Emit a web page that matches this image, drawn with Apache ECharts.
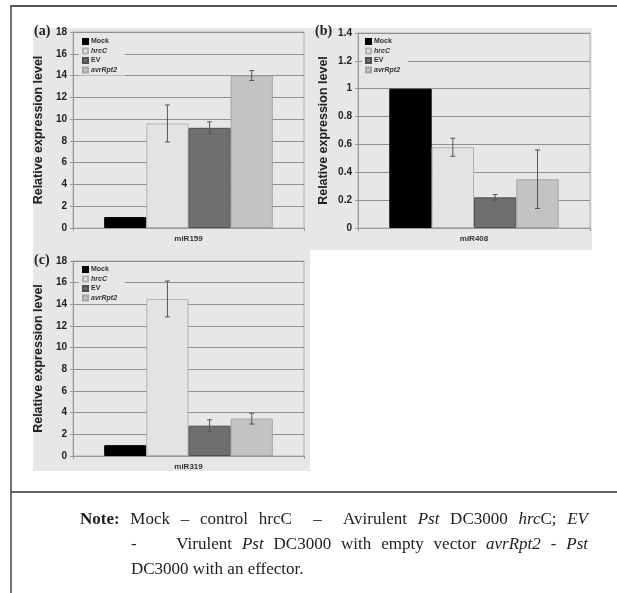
<!DOCTYPE html>
<html>
<head>
<meta charset="utf-8">
<script src="https://cdn.jsdelivr.net/npm/echarts@6/dist/echarts.min.js"></script>
<style>
  body { margin: 0; background: #fff; }
  #chart { position: absolute; left: 0; top: 0; width: 617px; height: 593px; }
  .note { position: absolute; font-family: "Liberation Serif", "DejaVu Serif", serif; font-size: 17px; color: #222; white-space: nowrap; }
  .just { text-align: justify; text-align-last: justify; white-space: normal; }
</style>
</head>
<body>
<div id="chart"></div>
<div class="note just" style="left:80px; top:509px; width:508px;"><b>Note:</b> Mock – control hrcC &nbsp;– &nbsp;Avirulent <i>Pst</i> DC3000 <i>hrc</i>C; <i>EV</i></div>
<div class="note just" style="left:131px; top:534px; width:457px;">- &nbsp;&nbsp;&nbsp;Virulent <i>Pst</i> DC3000 with empty vector <i>avrRpt2 - Pst</i></div>
<div class="note" style="left:131px; top:559px;">DC3000 with an effector.</div>
<script>
// 处理组
var seriesNames = ['Mock', 'hrcC', 'EV', 'avrRpt2'];
var barColors = ['#000000', '#e3e3e3', '#6f6f6f', '#c3c3c3'];
var barBorders = ['#000000', '#b2b2b2', '#4f4f4f', '#a5a5a5'];

// (a) miR159
var catA = ['miR159'];
var valuesA = [1.0, 9.6, 9.2, 14.0];
var errorsA = [0, 1.7, 0.55, 0.45];
// (b) miR408
var catB = ['miR408'];
var valuesB = [1.0, 0.58, 0.22, 0.35];
var errorsB = [0, 0.065, 0.02, 0.21];
// (c) miR319
var catC = ['miR319'];
var valuesC = [1.0, 14.5, 2.8, 3.45];
var errorsC = [0, 1.65, 0.55, 0.5];

// y轴刻度
var yMaxA = 18, yStepA = 2;
var yMaxB = 1.4, yStepB = 0.2;
var yMaxC = 18, yStepC = 2;

var gapPct = 27;
var grids = [
  { left: 73, top: 32, width: 231, height: 196 },
  { left: 358, top: 33, width: 232, height: 195 },
  { left: 73, top: 261, width: 231, height: 195 }
];
var legendPos = [
  { left: 79, top: 36 },
  { left: 362, top: 36 },
  { left: 79, top: 264 }
];

function makeGrid(g) {
  return {
    left: g.left, top: g.top, width: g.width, height: g.height,
    show: true, backgroundColor: '#e7e7e7', borderColor: '#b0b0b0', borderWidth: 1
  };
}

function makeX(idx, cats) {
  return {
    type: 'category', gridIndex: idx, data: cats,
    axisLine: { lineStyle: { color: '#9a9a9a' } },
    axisTick: { show: true, length: 3, lineStyle: { color: '#9a9a9a' } },
    axisLabel: { fontSize: 8, fontWeight: 'bold', color: '#333', margin: 7, fontFamily: 'Liberation Sans' }
  };
}

function makeY(idx, max, step) {
  return {
    type: 'value', gridIndex: idx, min: 0, max: max, interval: step,
    name: 'Relative expression level', nameLocation: 'middle', nameGap: 28,
    nameTextStyle: { fontSize: 12.5, fontWeight: 'bold', color: '#222', fontFamily: 'Liberation Sans' },
    axisLine: { show: true, lineStyle: { color: '#9a9a9a' } },
    axisTick: { show: true, length: 3, lineStyle: { color: '#9a9a9a' } },
    axisLabel: { fontSize: 10, fontWeight: 'bold', color: '#222', margin: 6, fontFamily: 'Liberation Sans' },
    splitLine: { lineStyle: { color: '#8f8f8f', width: 1 } }
  };
}

function makeBars(idx, values) {
  return seriesNames.map(function (n, i) {
    return {
      name: n, type: 'bar', xAxisIndex: idx, yAxisIndex: idx,
      data: [values[i]],
      barGap: '0%', barCategoryGap: gapPct + '%',
      itemStyle: { color: barColors[i], borderColor: barBorders[i], borderWidth: 1 },
      emphasis: { disabled: true }
    };
  });
}

function makeErr(idx, values, errors) {
  var data = [];
  for (var i = 0; i < values.length; i++) {
    if (errors[i] > 0) data.push([0, values[i] - errors[i], values[i] + errors[i], i]);
  }
  return {
    type: 'custom', xAxisIndex: idx, yAxisIndex: idx, z: 10,
    encode: { x: 0, y: [1, 2] },
    data: data,
    renderItem: function (params, api) {
      var lo = api.coord([api.value(0), api.value(1)]);
      var hi = api.coord([api.value(0), api.value(2)]);
      var band = api.size([1, 0])[0];
      var bw = band * (1 - gapPct / 100) / seriesNames.length;
      var x = lo[0] + (api.value(3) - 1.5) * bw;
      var cap = 2.5;
      var st = { stroke: '#555', lineWidth: 1 };
      return {
        type: 'group',
        children: [
          { type: 'line', shape: { x1: x, y1: lo[1], x2: x, y2: hi[1] }, style: st },
          { type: 'line', shape: { x1: x - cap, y1: lo[1], x2: x + cap, y2: lo[1] }, style: st },
          { type: 'line', shape: { x1: x - cap, y1: hi[1], x2: x + cap, y2: hi[1] }, style: st }
        ]
      };
    }
  };
}

function makeLegend(p) {
  return {
    orient: 'vertical', left: p.left, top: p.top,
    icon: 'rect',
    itemWidth: 5, itemHeight: 5, itemGap: 2.5, padding: [2, 8, 2, 3],
    backgroundColor: '#e7e7e7', selectedMode: false,
    data: seriesNames,
    formatter: function (name) {
      return (name === 'hrcC' || name === 'avrRpt2') ? '{i|' + name + '}' : name;
    },
    textStyle: {
      fontSize: 7, fontWeight: 'bold', color: '#333', padding: [0, 0, 0, -2], fontFamily: 'Liberation Sans',
      rich: { i: { fontSize: 7, fontWeight: 'bold', fontStyle: 'italic', color: '#333', fontFamily: 'Liberation Sans' } }
    }
  };
}

var myChart = echarts.init(document.getElementById('chart'));
var option = {
  animation: false,
  backgroundColor: '#ffffff',
  graphic: [
    // 图框
    { type: 'rect', shape: { x: 33, y: 28, width: 277, height: 443 }, style: { fill: '#e7e7e7' }, z: -10 },
    { type: 'rect', shape: { x: 305, y: 28, width: 287, height: 222 }, style: { fill: '#e7e7e7' }, z: -10 },
    { type: 'line', shape: { x1: 11, y1: 6, x2: 617, y2: 6 }, style: { stroke: '#555', lineWidth: 2 } },
    { type: 'line', shape: { x1: 11, y1: 5, x2: 11, y2: 593 }, style: { stroke: '#444', lineWidth: 1.5 } },
    { type: 'line', shape: { x1: 11, y1: 492, x2: 617, y2: 492 }, style: { stroke: '#333', lineWidth: 1.5 } },
    { type: 'text', left: 34, top: 24, style: { text: '(a)', font: 'bold 14px "Liberation Serif"', fill: '#222' } },
    { type: 'text', left: 315, top: 24, style: { text: '(b)', font: 'bold 14px "Liberation Serif"', fill: '#222' } },
    { type: 'text', left: 34, top: 253, style: { text: '(c)', font: 'bold 14px "Liberation Serif"', fill: '#222' } }
  ],
  legend: [makeLegend(legendPos[0]), makeLegend(legendPos[1]), makeLegend(legendPos[2])],
  grid: grids.map(makeGrid),
  xAxis: [makeX(0, catA), makeX(1, catB), makeX(2, catC)],
  yAxis: [makeY(0, yMaxA, yStepA), makeY(1, yMaxB, yStepB), makeY(2, yMaxC, yStepC)],
  series: [].concat(
    makeBars(0, valuesA), [makeErr(0, valuesA, errorsA)],
    makeBars(1, valuesB), [makeErr(1, valuesB, errorsB)],
    makeBars(2, valuesC), [makeErr(2, valuesC, errorsC)]
  )
};
myChart.setOption(option);
</script>
</body>
</html>
